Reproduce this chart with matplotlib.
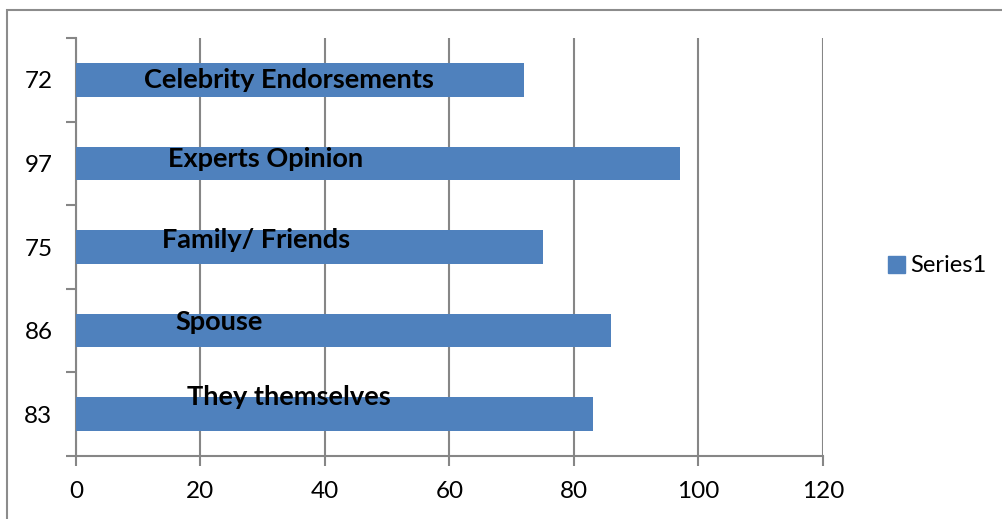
import numpy as np
import matplotlib.pyplot as plt
from matplotlib.patches import Rectangle, Patch

# data (top to bottom as shown)
categories = ["Celebrity Endorsements", "Experts Opinion", "Family/ Friends", "Spouse", "They themselves"]
values = [72, 97, 75, 86, 83]
value_labels = ["72", "97", "75", "86", "83"]
# where the bold labels sit (x in data units, y nudge in category units)
label_x = [34.2, 30.5, 28.9, 23.0, 34.2]
label_dy = [0.0, -0.05, -0.08, -0.1, -0.21]

bar_color = "#4F81BD"
grid_color = "#868686"

fig = plt.figure(figsize=(10.03, 5.19), dpi=100)
ax = fig.add_axes([76 / 1003, 63 / 519, 747 / 1003, 418 / 519])

ypos = np.arange(len(categories))
ax.barh(ypos, values, height=0.4, color=bar_color, zorder=3)
ax.set_ylim(len(categories) - 0.5, -0.5)
ax.set_xlim(0, 120)

for i, name in enumerate(categories):
    ax.text(label_x[i], ypos[i] + label_dy[i], name, ha="center", va="center",
            fontsize=19.5, fontweight="bold", family="Lato", color="black", zorder=4)

ax.set_xticks(np.arange(0, 121, 20))
ax.set_yticks(ypos)
ax.set_yticklabels(value_labels)
ax.set_yticks(np.arange(-0.5, len(categories)), minor=True)
ax.tick_params(axis="y", which="major", length=0, pad=17, labelsize=17.5)
ax.tick_params(axis="y", which="minor", length=7, width=1.5, color=grid_color, direction="out")
ax.tick_params(axis="x", length=7, width=1.5, color=grid_color, direction="out", pad=11, labelsize=17.5)
for lab in ax.get_xticklabels() + ax.get_yticklabels():
    lab.set_family("Lato")

ax.grid(axis="x", color=grid_color, linewidth=1.5, zorder=0)
for side in ["top", "right"]:
    ax.spines[side].set_visible(False)
for side in ["left", "bottom"]:
    ax.spines[side].set_color(grid_color)
    ax.spines[side].set_linewidth(1.5)

fig.legend(handles=[Patch(color=bar_color, label="Series1")], loc="center left",
           bbox_to_anchor=(867 / 1003, 1 - 266 / 519), frameon=False,
           prop={"family": "Lato", "size": 17}, handlelength=0.7, handleheight=0.7,
           handletextpad=0.25)

fig.patches.append(Rectangle((7 / 1003, -0.2), 1.2, 1.2 - 10 / 519, transform=fig.transFigure,
                             fill=False, edgecolor="#8c8c8c", linewidth=1.5))

fig.savefig("out.png", dpi=100)
